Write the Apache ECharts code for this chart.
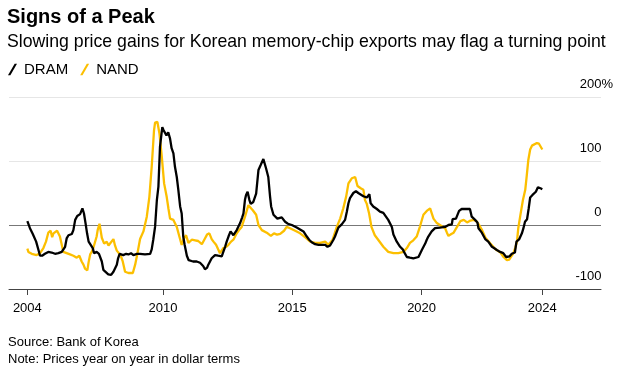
<!DOCTYPE html>
<html>
<head>
<meta charset="utf-8">
<script src="https://cdn.jsdelivr.net/npm/echarts@6/dist/echarts.min.js"></script>
<style>
html,body{margin:0;padding:0;background:#fff;}
#chart{width:628px;height:372px;}
</style>
</head>
<body>
<div id="chart"></div>
<script>
// Month positions as fractional years, values in % year on year
var dramDates = [2004.75,2004.85,2004.96,2005.01,2005.09,2005.18,2005.24,2005.32,2005.43,2005.56,2005.69,2005.82,2005.95,2006.08,2006.21,2006.27,2006.34,2006.47,2006.53,2006.60,2006.68,2006.79,2006.88,2006.94,2007.00,2007.06,2007.12,2007.20,2007.28,2007.33,2007.43,2007.52,2007.63,2007.69,2007.76,2007.88,2007.93,2007.99,2008.08,2008.21,2008.26,2008.32,2008.37,2008.46,2008.57,2008.66,2008.76,2008.85,2008.99,2009.11,2009.30,2009.50,2009.56,2009.62,2009.69,2009.76,2009.82,2009.88,2009.97,2010.02,2010.08,2010.13,2010.20,2010.27,2010.33,2010.40,2010.46,2010.53,2010.59,2010.66,2010.72,2010.78,2010.83,2010.92,2010.99,2011.04,2011.16,2011.30,2011.43,2011.55,2011.62,2011.70,2011.75,2011.88,2012.01,2012.13,2012.27,2012.33,2012.40,2012.46,2012.53,2012.61,2012.72,2012.85,2012.98,2013.06,2013.11,2013.17,2013.21,2013.27,2013.34,2013.39,2013.49,2013.60,2013.69,2013.78,2013.88,2013.98,2014.07,2014.14,2014.18,2014.27,2014.33,2014.42,2014.49,2014.59,2014.65,2014.72,2014.83,2014.98,2015.17,2015.30,2015.43,2015.56,2015.65,2015.75,2015.88,2016.01,2016.15,2016.27,2016.36,2016.46,2016.59,2016.65,2016.78,2016.91,2017.04,2017.11,2017.17,2017.23,2017.30,2017.36,2017.46,2017.55,2017.62,2017.75,2017.88,2017.98,2018.03,2018.13,2018.27,2018.39,2018.52,2018.59,2018.71,2018.85,2018.91,2018.97,2019.04,2019.10,2019.17,2019.27,2019.32,2019.43,2019.55,2019.68,2019.75,2019.88,2020.01,2020.14,2020.20,2020.26,2020.39,2020.52,2020.71,2020.91,2021.04,2021.17,2021.20,2021.33,2021.45,2021.55,2021.72,2021.87,2021.94,2022.07,2022.16,2022.20,2022.33,2022.38,2022.46,2022.58,2022.72,2022.80,2022.91,2023.04,2023.16,2023.27,2023.40,2023.49,2023.55,2023.61,2023.67,2023.78,2023.88,2023.94,2024.00,2024.08,2024.14,2024.20,2024.29,2024.42,2024.50,2024.56,2024.62,2024.67];
var dramValues = [6,-5,-14,-16,-26,-39,-48,-48,-45,-42,-43,-45,-44,-42,-34,-21,-16,-14,-8,8,14,17,26,18,3,-13,-26,-31,-36,-44,-42,-45,-57,-70,-70,-77,-80,-78,-73,-62,-52,-45,-48,-47,-45,-46,-44,-47,-45,-45,-46,-45,-38,-23,-3,39,60,122,153,148,145,140,145,135,120,112,91,75,55,29,18,-18,-30,-48,-55,-57,-57,-57,-59,-64,-69,-67,-62,-52,-47,-48,-49,-42,-34,-26,-18,-10,-16,-8,3,12,18,40,47,52,39,33,36,49,86,94,103,89,75,44,29,16,13,10,11,12,14,5,2,0,-4,-7,-10,-18,-23,-27,-30,-31,-31,-31,-34,-32,-23,-18,-4,1,8,21,34,42,45,50,53,50,49,45,43,48,34,29,25,21,19,18,8,-3,-15,-18,-26,-29,-34,-38,-42,-50,-51,-52,-51,-50,-39,-29,-23,-18,-10,-5,-4,-3,0,1,9,10,22,25,25,25,13,8,4,-5,-12,-13,-22,-26,-34,-36,-39,-42,-44,-50,-49,-45,-44,-43,-26,-22,-13,-5,5,9,25,43,47,52,59,59,57,56];

var nandDates = [2004.75,2004.79,2004.92,2005.11,2005.24,2005.37,2005.43,2005.47,2005.56,2005.65,2005.71,2005.76,2005.82,2005.90,2005.95,2006.01,2006.07,2006.14,2006.27,2006.40,2006.53,2006.66,2006.76,2006.85,2006.92,2006.98,2007.07,2007.12,2007.18,2007.24,2007.30,2007.37,2007.43,2007.47,2007.54,2007.59,2007.63,2007.72,2007.82,2007.89,2007.95,2008.08,2008.14,2008.21,2008.31,2008.38,2008.44,2008.53,2008.66,2008.83,2008.92,2009.01,2009.11,2009.24,2009.37,2009.47,2009.56,2009.65,2009.69,2009.78,2009.86,2009.95,2010.04,2010.14,2010.21,2010.27,2010.40,2010.53,2010.63,2010.72,2010.81,2010.89,2010.98,2011.11,2011.24,2011.36,2011.50,2011.62,2011.70,2011.79,2011.88,2011.95,2012.05,2012.13,2012.20,2012.33,2012.44,2012.53,2012.63,2012.72,2012.85,2012.94,2013.04,2013.17,2013.30,2013.36,2013.47,2013.60,2013.69,2013.82,2014.01,2014.17,2014.29,2014.41,2014.53,2014.68,2014.78,2014.91,2015.11,2015.30,2015.49,2015.69,2015.88,2016.07,2016.27,2016.39,2016.56,2016.72,2016.85,2016.97,2017.08,2017.17,2017.30,2017.43,2017.52,2017.66,2017.75,2017.81,2017.88,2017.97,2018.06,2018.19,2018.32,2018.52,2018.71,2018.91,2019.10,2019.30,2019.43,2019.55,2019.68,2019.81,2019.94,2020.07,2020.20,2020.33,2020.46,2020.59,2020.78,2020.91,2020.98,2021.04,2021.15,2021.24,2021.37,2021.50,2021.63,2021.76,2021.89,2022.02,2022.12,2022.21,2022.34,2022.47,2022.66,2022.86,2023.05,2023.17,2023.30,2023.39,2023.49,2023.55,2023.62,2023.69,2023.74,2023.82,2023.92,2024.01,2024.07,2024.13,2024.20,2024.27,2024.33,2024.46,2024.54,2024.60,2024.67];
var nandValues = [-37,-42,-45,-47,-44,-36,-34,-26,-12,-9,-19,-13,-11,-9,-12,-18,-29,-42,-44,-46,-48,-51,-48,-57,-62,-68,-71,-58,-46,-42,-36,-34,-18,-8,2,-10,-20,-29,-26,-32,-34,-22,-32,-40,-45,-50,-57,-73,-75,-75,-62,-44,-22,-10,13,44,91,148,160,161,143,107,65,44,25,10,8,-3,-18,-31,-21,-16,-28,-23,-24,-25,-30,-21,-15,-13,-22,-26,-31,-38,-44,-36,-34,-31,-26,-23,-13,-8,-3,13,31,33,23,16,0,-8,-12,-17,-13,-15,-14,-9,-3,-5,-9,-13,-19,-26,-28,-28,-26,-31,-23,-3,10,26,44,65,73,75,61,57,55,39,33,18,-3,-16,-23,-34,-42,-44,-44,-42,-36,-28,-24,-18,-2,16,22,26,10,3,-2,-5,-12,-17,-14,-12,-3,6,8,4,7,8,6,1,-8,-20,-29,-38,-43,-50,-55,-54,-48,-44,-36,-26,-5,15,39,55,78,102,118,124,127,128,127,124,118];

var seriesNames = ['DRAM', 'NAND'];
var xTickValues = [2004.75, 2010, 2015, 2020, 2024.67];
var xTickLabels = ['2004', '2010', '2015', '2020', '2024'];

function zip(a, b) { return a.map(function (d, i) { return [d, b[i]]; }); }

var FONT = 'Liberation Sans, Arial, sans-serif';
var chart = echarts.init(document.getElementById('chart'), null, { renderer: 'canvas' });
chart.setOption({
  backgroundColor: '#fff',
  animation: false,
  textStyle: { fontFamily: FONT },
  title: [
    { text: 'Signs of a Peak', left: 2, top: 2,
      textStyle: { fontFamily: FONT, fontSize: 20, fontWeight: 'bold', color: '#000' } },
    { text: 'Slowing price gains for Korean memory-chip exports may flag a turning point', left: 2, top: 28,
      textStyle: { fontFamily: FONT, fontSize: 17.7, fontWeight: 'normal', color: '#000' } },
    { text: 'Source: Bank of Korea', left: 3, top: 331,
      textStyle: { fontFamily: FONT, fontSize: 13, fontWeight: 'normal', color: '#000' } },
    { text: 'Note: Prices year on year in dollar terms', left: 3, top: 348,
      textStyle: { fontFamily: FONT, fontSize: 13, fontWeight: 'normal', color: '#000' } }
  ],
  legend: {
    data: seriesNames,
    left: 3, top: 57,
    icon: 'path://M0,12 L7,0 L9.5,0 L2.5,12 Z',
    itemWidth: 9, itemHeight: 12, itemGap: 12,
    textStyle: { fontFamily: FONT, fontSize: 15, color: '#000', padding: [0, 0, 0, 2] }
  },
  grid: { left: 9, right: 27, top: 97, bottom: 83, containLabel: false },
  xAxis: {
    type: 'value', min: 2004.04, max: 2026.94,
    splitLine: { show: false },
    axisLine: { onZero: false, lineStyle: { color: '#444', width: 1 } },
    axisTick: { customValues: xTickValues, length: 6, lineStyle: { color: '#444' } },
    axisLabel: {
      customValues: xTickValues, margin: 13, fontSize: 13, color: '#000', fontFamily: FONT,
      formatter: function (v) { var i = xTickValues.indexOf(v); return i >= 0 ? xTickLabels[i] : ''; }
    }
  },
  yAxis: {
    type: 'value', position: 'right', min: -100, max: 200, interval: 100,
    axisLine: { show: false }, axisTick: { show: false },
    splitLine: { show: true, lineStyle: { color: ['#444', '#777', '#e6e6e6', '#e6e6e6'], width: 1 } },
    axisLabel: {
      show: true, inside: false, margin: 12, align: 'right', verticalAlign: 'bottom',
      padding: [0, 0, 6, 0], fontSize: 13, color: '#000', fontFamily: FONT,
      showMinLabel: true, showMaxLabel: true,
      formatter: function (v) { return v === 200 ? v + '{p|%}' : v + '{h|%}'; },
      rich: {
        p: { fontSize: 13, color: '#000', fontFamily: FONT },
        h: { fontSize: 13, color: 'rgba(0,0,0,0)', fontFamily: FONT }
      }
    }
  },
  series: [
    { name: 'NAND', type: 'line', data: zip(nandDates, nandValues), showSymbol: false,
      color: '#fcbf00', lineStyle: { color: '#fcbf00', width: 2.3 }, z: 2 },
    { name: 'DRAM', type: 'line', data: zip(dramDates, dramValues), showSymbol: false,
      color: '#000', lineStyle: { color: '#000', width: 2.3 }, z: 3 }
  ]
});
</script>
</body>
</html>
